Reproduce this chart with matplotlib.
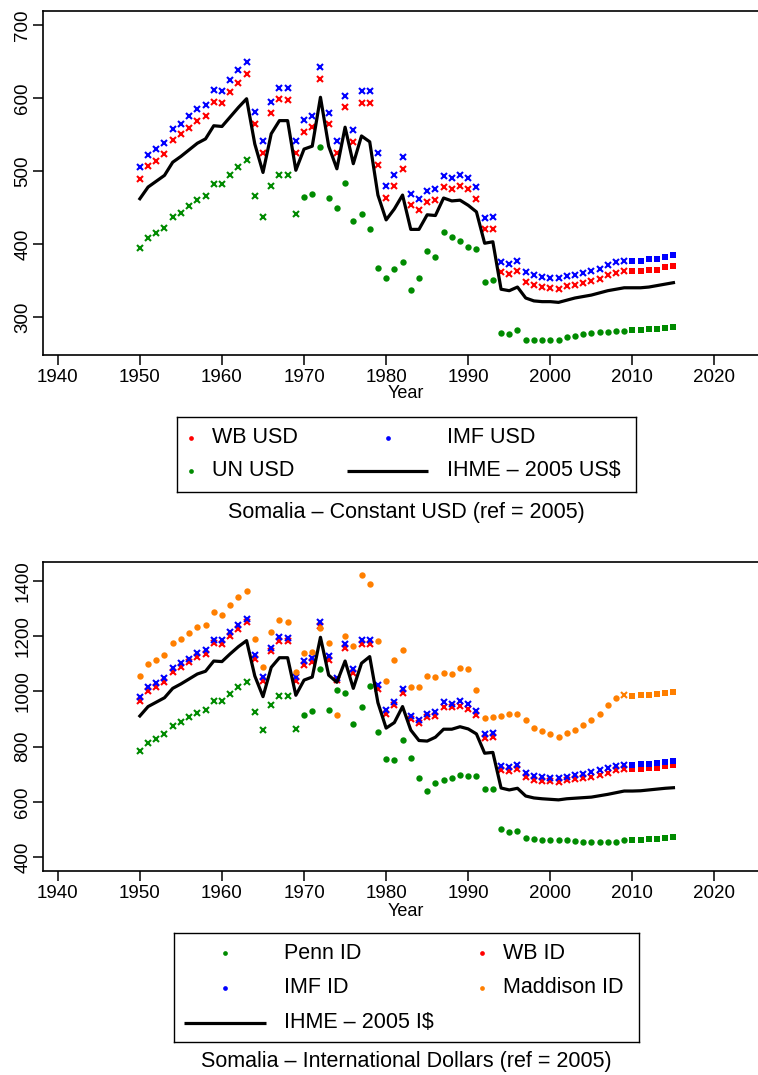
import matplotlib
matplotlib.use("Agg")
import matplotlib.pyplot as plt
import numpy as np

plt.rcParams['font.family'] = ['Liberation Sans', 'DejaVu Sans']

years = np.arange(1950, 2016)

# top panel: constant USD (ref = 2005)
ihme_usd = [462, 478, 486, 494, 512, 520, 529, 538, 544, 562,
            561, 574, 587, 599, 537, 498, 551, 569, 569, 501,
            530, 534, 601, 534, 503, 560, 510, 548, 540, 467,
            433, 448, 467, 420, 420, 440, 439, 463, 459, 460,
            453, 444, 401, 403, 338, 336, 341, 326, 322, 321,
            321, 320, 323, 326, 328, 330, 333, 336, 338, 340,
            340, 340, 341, 343, 345, 347]
wb_usd = [489, 507, 514, 523, 542, 550, 559, 569, 575, 595,
          593, 608, 621, 633, 565, 525, 579, 598, 597, 525,
          554, 560, 626, 564, 525, 587, 540, 593, 593, 508,
          463, 480, 503, 454, 447, 457, 460, 478, 475, 480,
          475, 462, 421, 421, 361, 359, 363, 348, 344, 341,
          340, 338, 342, 344, 347, 349, 352, 357, 360, 363,
          363, 363, 364, 365, 368, 370]
imf_usd = [505, 522, 530, 539, 558, 565, 575, 585, 590, 611,
           609, 624, 638, 649, 581, 541, 595, 614, 614, 541,
           570, 575, 643, 580, 541, 603, 556, 609, 609, 524,
           479, 495, 519, 469, 462, 472, 475, 493, 491, 495,
           490, 478, 435, 437, 375, 373, 377, 362, 357, 355,
           354, 353, 356, 358, 360, 363, 366, 371, 375, 377,
           377, 377, 379, 380, 382, 385]
un_usd = [394, 408, 415, 422, 437, 443, 452, 460, 466, 482,
          482, 494, 506, 515, 466, 437, 479, 494, 494, 441,
          464, 468, 533, 463, 449, 484, 432, 441, 420, 367,
          353, 366, 376, 337, 353, 390, 382, 416, 409, 404,
          396, 393, 348, 351, 278, 276, 282, 269, 268, 268,
          268, 269, 272, 274, 276, 278, 279, 280, 281, 281,
          282, 282, 283, 284, 285, 286]

# bottom panel: international dollars (ref = 2005)
ihme_id = [911, 945, 961, 977, 1011, 1027, 1045, 1063, 1073, 1110,
           1108, 1136, 1162, 1184, 1056, 981, 1087, 1122, 1122, 986,
           1041, 1052, 1196, 1059, 1033, 1110, 1011, 1102, 1126, 959,
           867, 887, 945, 860, 822, 820, 834, 863, 863, 872,
           864, 846, 776, 779, 650, 643, 649, 621, 614, 611,
           609, 607, 611, 613, 615, 617, 622, 627, 633, 639,
           639, 640, 643, 646, 649, 651]
wb_id = [966, 1003, 1017, 1035, 1071, 1087, 1105, 1126, 1136, 1174,
         1171, 1201, 1227, 1250, 1117, 1039, 1146, 1182, 1182, 1039,
         1096, 1108, 1237, 1114, 1041, 1159, 1068, 1171, 1171, 1009,
         918, 951, 995, 899, 884, 908, 911, 945, 942, 948,
         938, 915, 832, 835, 715, 712, 719, 690, 679, 677,
         674, 672, 678, 682, 685, 690, 697, 706, 714, 719,
         718, 719, 721, 724, 729, 732]
imf_id = [981, 1016, 1030, 1049, 1086, 1102, 1119, 1139, 1150, 1187,
          1185, 1214, 1241, 1264, 1131, 1052, 1159, 1196, 1195, 1052,
          1110, 1120, 1250, 1128, 1050, 1173, 1082, 1185, 1185, 1022,
          933, 963, 1009, 912, 898, 919, 924, 961, 955, 964,
          953, 929, 846, 851, 730, 725, 733, 703, 694, 690,
          687, 686, 691, 696, 701, 707, 714, 721, 729, 733,
          733, 736, 738, 742, 745, 749]
penn_id = [785, 814, 826, 845, 875, 889, 906, 923, 933, 966,
           964, 991, 1015, 1034, 925, 860, 951, 983, 983, 865,
           915, 930, 1080, 933, 1005, 993, 881, 945, 1020, 852,
           756, 753, 823, 760, 685, 638, 668, 680, 686, 697,
           692, 692, 645, 648, 502, 491, 494, 468, 464, 463,
           463, 463, 463, 458, 456, 453, 456, 454, 456, 461,
           462, 463, 464, 466, 469, 473]
maddison_id = [1057, 1098, 1113, 1133, 1175, 1191, 1212, 1232, 1242, 1287,
               1278, 1312, 1341, 1364, 1191, 1088, 1216, 1259, 1251, 1070,
               1139, 1143, 1229, 1177, 915, 1202, 1166, 1421, 1389, 1182,
               1037, 1113, 1151, 1015, 1015, 1056, 1051, 1068, 1064, 1086,
               1081, 1006, 905, 908, 911, 917, 919, 895, 867, 858,
               847, 835, 848, 860, 878, 896, 918, 950, 977, 986,
               985, 986, 988, 991, 994, 998]

RED = '#FF0000'
BLUE = '#0000FF'
GREEN = '#008B00'
ORANGE = '#FF7F00'

W, H = 758, 1075
fig = plt.figure(figsize=(W / 100, H / 100), dpi=100)


def px_rect(x0, y0, x1, y1):
    return [x0 / W, 1 - y1 / H, (x1 - x0) / W, (y1 - y0) / H]


def dots(ax, vals, color, segs):
    # segs: list of (first_year, last_year, marker)
    v = np.array(vals, dtype=float)
    for y0, y1, m in segs:
        k = (years >= y0) & (years <= y1)
        if m == 'x':
            ax.plot(years[k], v[k], ls='none', marker='x', ms=3.8, mew=1.5, color=color)
        elif m == 'o':
            ax.plot(years[k], v[k], ls='none', marker='o', ms=4.6, mew=0, color=color)
        else:
            ax.plot(years[k], v[k], ls='none', marker='s', ms=4.2, mew=0, color=color)


def style_axes(ax, ylim, yticks):
    ax.set_xlim(1938.2, 2025.3)
    ax.set_ylim(*ylim)
    ax.set_xticks(range(1940, 2021, 10))
    ax.set_yticks(yticks)
    ax.tick_params(direction='out', length=7, width=1.1, labelsize=13.5, pad=3)
    ax.tick_params(axis='y', pad=1.5)
    for lab in ax.get_yticklabels():
        lab.set_rotation(90)
        lab.set_va('center')
    for s in ax.spines.values():
        s.set_linewidth(1.2)
    ax.spines['right'].set_visible(False)


def legend_box(rect, items):
    lax = fig.add_axes(px_rect(*rect))
    lax.set_xlim(rect[0], rect[2])
    lax.set_ylim(rect[3], rect[1])
    lax.set_xticks([])
    lax.set_yticks([])
    for s in lax.spines.values():
        s.set_linewidth(1.0)
    for kind, color, xa, xb, y, tx, label in items:
        if kind == 'dot':
            lax.plot([xa], [y], ls='none', marker='o', ms=3.4, mew=0, color=color)
        else:
            lax.plot([xa, xb], [y, y], color=color, lw=2.3, solid_capstyle='butt')
        lax.text(tx, y, label, fontsize=15.5, va='center', ha='left')
    return lax


sw = [(1950, 2009, 'x'), (2010, 2015, 's')]
mixed = [(1950, 1969, 'x'), (1970, 2009, 'o'), (2010, 2015, 's')]

# ---- top panel
ax1 = fig.add_axes(px_rect(43, 11, 758, 355))
dots(ax1, un_usd, GREEN, mixed)
dots(ax1, wb_usd, RED, sw)
dots(ax1, imf_usd, BLUE, sw)
ax1.plot(years, ihme_usd, color='black', lw=2.3)
style_axes(ax1, (247.9, 719.2), [300, 400, 500, 600, 700])
fig.text(406 / W, 1 - 394 / H, 'Year', ha='center', va='center', fontsize=13)

legend_box((177, 417, 636, 492), [
    ('dot', RED, 190.7, None, 437.7, 211.7, 'WB USD'),
    ('dot', GREEN, 190.7, None, 471, 211.7, 'UN USD'),
    ('dot', BLUE, 387.7, None, 437.7, 446.7, 'IMF USD'),
    ('line', 'black', 346.7, 428.3, 471, 446.7, 'IHME \u2013 2005 US$'),
])
fig.text(406 / W, 1 - 512 / H, 'Somalia \u2013 Constant USD (ref = 2005)',
         ha='center', va='center', fontsize=15.5)

# ---- bottom panel
ax2 = fig.add_axes(px_rect(43, 562, 758, 871))
dots(ax2, penn_id, GREEN, mixed)
dots(ax2, wb_id, RED, sw)
dots(ax2, imf_id, BLUE, sw)
dots(ax2, maddison_id, ORANGE, [(1950, 2008, 'o'), (2009, 2009, 'x'), (2010, 2015, 's')])
ax2.plot(years, ihme_id, color='black', lw=2.3)
style_axes(ax2, (349.3, 1468.8), [400, 600, 800, 1000, 1200, 1400])
fig.text(406 / W, 1 - 911 / H, 'Year', ha='center', va='center', fontsize=13)

legend_box((174, 933, 639, 1042), [
    ('dot', GREEN, 225, None, 953.3, 284, 'Penn ID'),
    ('dot', BLUE, 225, None, 987.7, 284, 'IMF ID'),
    ('line', 'black', 184, 266, 1022.7, 284, 'IHME \u2013 2005 I$'),
    ('dot', RED, 481.7, None, 953.3, 502.7, 'WB ID'),
    ('dot', ORANGE, 481.7, None, 987.7, 502.7, 'Maddison ID'),
])
fig.text(406 / W, 1 - 1061 / H, 'Somalia \u2013 International Dollars (ref = 2005)',
         ha='center', va='center', fontsize=15.5)

fig.savefig('out.png', dpi=100)
